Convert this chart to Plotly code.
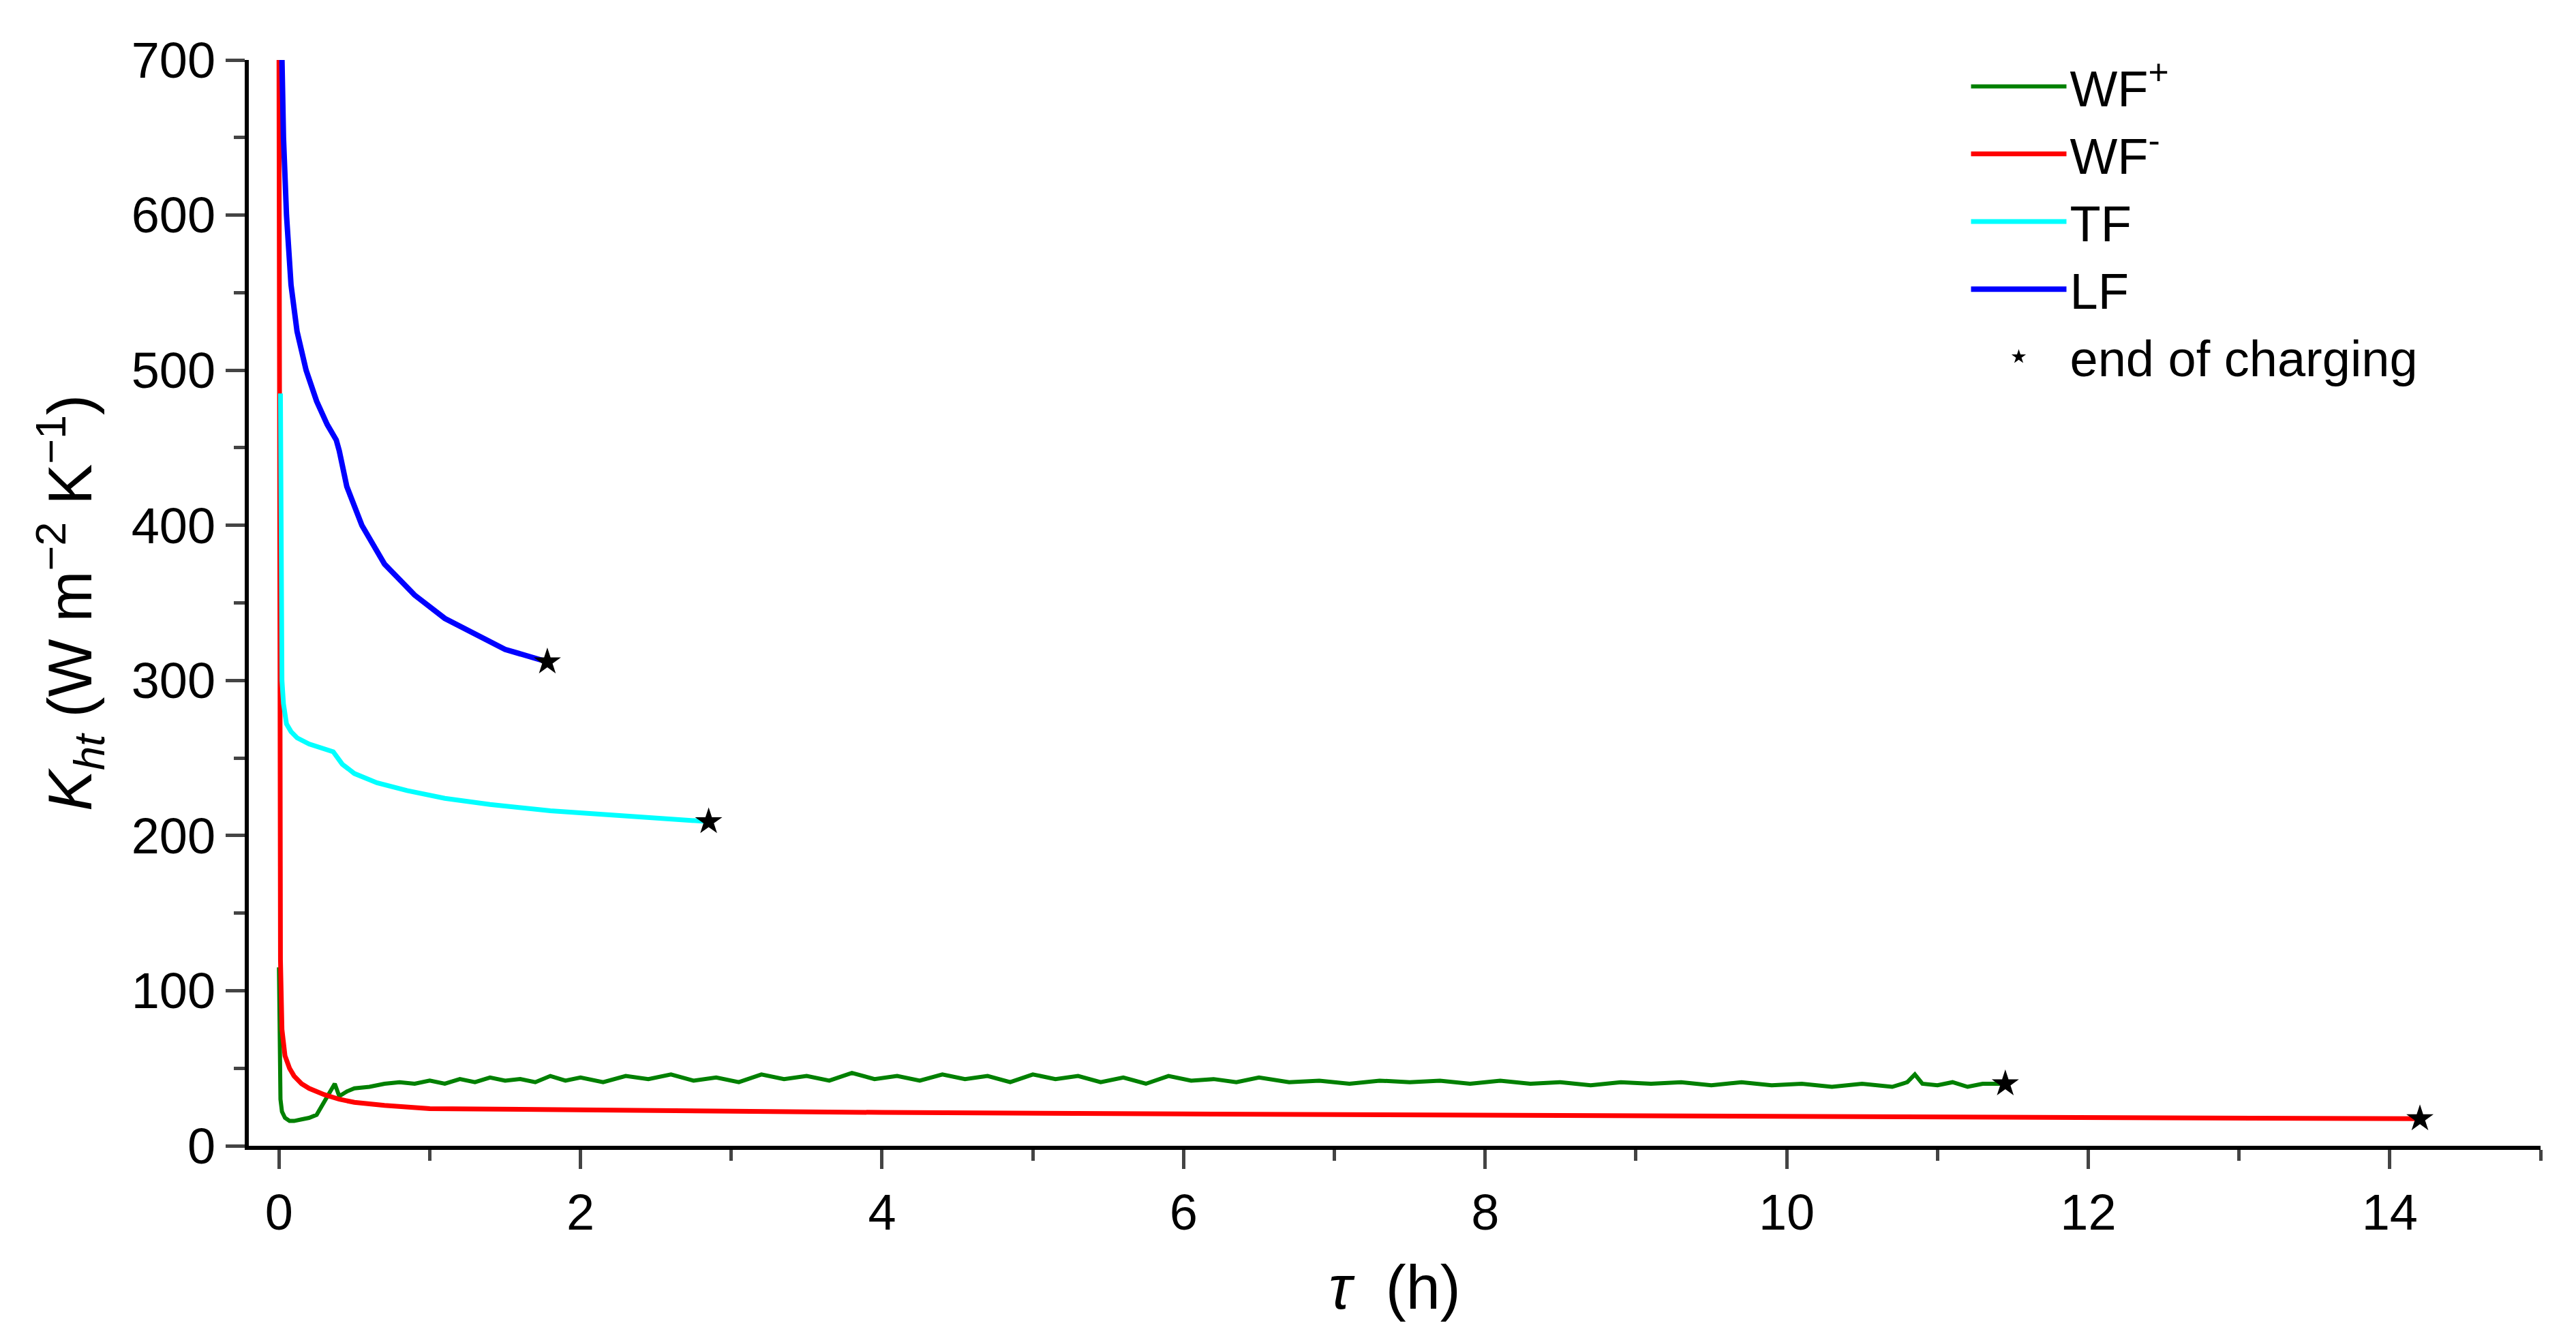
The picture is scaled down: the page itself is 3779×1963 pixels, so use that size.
import plotly.graph_objects as go

lf_t = [0.02, 0.03, 0.05, 0.08, 0.12, 0.18, 0.25, 0.32, 0.38, 0.40, 0.45, 0.55, 0.7, 0.9, 1.1, 1.3, 1.5, 1.78]
lf_k = [700, 650, 600, 555, 525, 500, 480, 465, 455, 448, 425, 400, 375, 355, 340, 330, 320, 312]
tf_t = [0.01, 0.015, 0.02, 0.03, 0.05, 0.08, 0.12, 0.2, 0.3, 0.36, 0.42, 0.5, 0.65, 0.85, 1.1, 1.4, 1.8, 2.3, 2.85]
tf_k = [485, 350, 300, 285, 272, 267, 263, 259, 256, 254, 246, 240, 234, 229, 224, 220, 216, 213, 209]
wfm_t = [0.0, 0.005, 0.01, 0.02, 0.04, 0.07, 0.1, 0.15, 0.2, 0.3, 0.4, 0.5, 0.7, 1.0, 1.5, 2.0, 3.0, 4.0, 6.0, 8.0, 10.0, 11.4, 12.5, 14.2]
wfm_k = [700, 300, 120, 75, 58, 50, 45, 40, 37, 33, 30, 28, 26, 24, 23.5, 23, 22, 21.5, 20.5, 20, 19, 18.5, 18, 17.5]
wfp_t = [0.0, 0.005, 0.01, 0.02, 0.04, 0.07, 0.1, 0.15, 0.2, 0.25, 0.3, 0.35, 0.37, 0.4, 0.45, 0.5, 0.6, 0.7, 0.8, 0.9, 1.0,
         1.1, 1.2, 1.3, 1.4, 1.5, 1.6, 1.7, 1.8, 1.9, 2.0, 2.15, 2.3, 2.45, 2.6, 2.75, 2.9, 3.05, 3.2, 3.35, 3.5, 3.65, 3.8, 3.95,
         4.1, 4.25, 4.4, 4.55, 4.7, 4.85, 5.0, 5.15, 5.3, 5.45, 5.6, 5.75, 5.9, 6.05, 6.2, 6.35, 6.5, 6.7, 6.9, 7.1, 7.3, 7.5,
         7.7, 7.9, 8.1, 8.3, 8.5, 8.7, 8.9, 9.1, 9.3, 9.5, 9.7, 9.9, 10.1, 10.3, 10.5, 10.7, 10.8, 10.85, 10.9, 11.0, 11.1, 11.2, 11.3, 11.45]
wfp_k = [115, 60, 30, 22, 18, 16, 16, 17, 18, 20, 28, 36, 40, 32, 35, 37, 38, 40, 41, 40, 42,
         40, 43, 41, 44, 42, 43, 41, 45, 42, 44, 41, 45, 43, 46, 42, 44, 41, 46, 43, 45, 42, 47, 43,
         45, 42, 46, 43, 45, 41, 46, 43, 45, 41, 44, 40, 45, 42, 43, 41, 44, 41, 42, 40, 42, 41,
         42, 40, 42, 40, 41, 39, 41, 40, 41, 39, 41, 39, 40, 38, 40, 38, 41, 46, 40, 39, 41, 38, 40, 40]

fig = go.Figure()
fig.add_trace(go.Scatter(x=wfp_t, y=wfp_k, mode="lines", name="WF<sup>+</sup>", line=dict(color="#008000", width=6)))
fig.add_trace(go.Scatter(x=wfm_t, y=wfm_k, mode="lines", name="WF<sup>-</sup>", line=dict(color="#ff0000", width=7)))
fig.add_trace(go.Scatter(x=tf_t, y=tf_k, mode="lines", name="TF", line=dict(color="#00ffff", width=7)))
fig.add_trace(go.Scatter(x=lf_t, y=lf_k, mode="lines", name="LF", line=dict(color="#0000ff", width=8)))
fig.add_trace(go.Scatter(x=[lf_t[-1], tf_t[-1], wfp_t[-1], wfm_t[-1]], y=[lf_k[-1], tf_k[-1], wfp_k[-1], wfm_k[-1]],
                         mode="markers", name="end of charging", marker=dict(symbol="star", color="black", size=30)))

axfont = dict(family="Liberation Sans, Arial", size=74, color="black")
fig.update_layout(
    width=3779, height=1963, plot_bgcolor="white", paper_bgcolor="white",
    margin=dict(l=357, r=60, t=80, b=290),
    font=axfont,
    legend=dict(x=0.75, y=1.01, xanchor="left", yanchor="top", font=dict(size=74), bgcolor="rgba(0,0,0,0)",
                itemwidth=140, tracegroupgap=14),
    xaxis=dict(range=[-0.2, 15], tickvals=[0, 2, 4, 6, 8, 10, 12, 14], showgrid=False, zeroline=False,
               showline=True, linecolor="black", linewidth=6, ticks="outside", ticklen=28, tickwidth=5,
               minor=dict(dtick=1, ticks="outside", ticklen=16, tickwidth=5), tickfont=axfont, automargin=False,
               title=dict(text="<i>τ</i>  (h)", font=dict(size=90), standoff=40)),
    yaxis=dict(range=[0, 700], dtick=100, showgrid=False, zeroline=False,
               showline=True, linecolor="black", linewidth=6, ticks="outside", ticklen=28, tickwidth=5,
               minor=dict(dtick=50, ticks="outside", ticklen=16, tickwidth=5), tickfont=axfont, automargin=False,
               title=dict(text="<i>K<sub>ht</sub></i> (W m<sup>−2</sup> K<sup>−1</sup>)", font=dict(size=90), standoff=30)),
)
fig.write_html("out.html")
